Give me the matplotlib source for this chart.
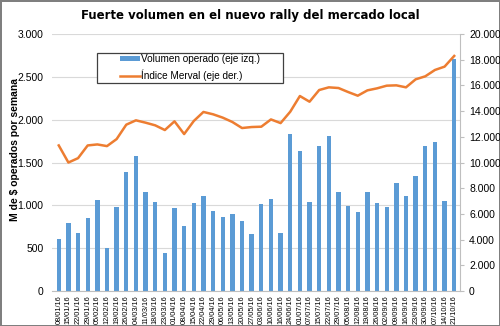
import matplotlib.pyplot as plt
from matplotlib.patches import Rectangle
from matplotlib.ticker import FuncFormatter

fechas = ["08/01/16", "15/01/16", "22/01/16", "29/01/16", "05/02/16", "12/02/16",
          "19/02/16", "26/02/16", "04/03/16", "11/03/16", "18/03/16", "23/03/16",
          "01/04/16", "08/04/16", "15/04/16", "22/04/16", "29/04/16", "06/05/16",
          "13/05/16", "20/05/16", "27/05/16", "03/06/16", "10/06/16", "16/06/16",
          "24/06/16", "01/07/16", "07/07/16", "15/07/16", "22/07/16", "29/07/16",
          "05/08/16", "12/08/16", "19/08/16", "26/08/16", "02/09/16", "09/09/16",
          "16/09/16", "23/09/16", "30/09/16", "07/10/16", "14/10/16", "21/10/16"]

volumen = [605, 793, 676, 855, 1066, 504, 984, 1391, 1578, 1160, 1039, 445,
           973, 758, 1031, 1113, 937, 867, 894, 816, 672, 1016, 1076, 676,
           1832, 1629, 1043, 1695, 1805, 1160, 988, 926, 1156, 1027, 984, 1258,
           1113, 1344, 1695, 1742, 1055, 2708]

merval = [11328, 10000, 10338, 11328, 11406, 11275, 11822, 12942, 13280, 13098,
          12890, 12525, 13202, 12213, 13228, 13931, 13749, 13489, 13150, 12681,
          12759, 12785, 13350, 13065, 13950, 15170, 14728, 15637, 15845, 15793,
          15481, 15195, 15610, 15767, 15975, 16000, 15845, 16468, 16702, 17195,
          17455, 18286]

plt.rcParams['font.family'] = ['Liberation Sans', 'DejaVu Sans']

def miles(v, pos):
    return f"{int(v):,}".replace(",", ".")

fig = plt.figure(figsize=(5, 3.26), dpi=100)
fig.patch.set_edgecolor('#7f7f7f')
fig.patch.set_linewidth(2)

ax = fig.add_axes([0.104, 0.107, 0.816, 0.789])
x = list(range(len(fechas)))
barras = ax.bar(x, volumen, width=0.45, color='#5B9BD5', zorder=2)
ax.set_ylim(0, 3000)
ax.set_xlim(-0.7, len(fechas) - 0.4)
ax.set_yticks(range(0, 3001, 500))
ax.yaxis.set_major_formatter(FuncFormatter(miles))
ax.grid(axis='y', color='#D9D9D9', linewidth=0.8, zorder=0)
ax.set_xticks(x)
ax.set_xticklabels(fechas, rotation=90, fontsize=5.3)
ax.tick_params(axis='y', length=0, labelsize=7.5, pad=6)
ax.tick_params(axis='x', length=0, pad=3)
for s in ['top', 'left', 'right']:
    ax.spines[s].set_visible(False)
ax.spines['bottom'].set_color('#BFBFBF')
ax.set_ylabel('M de $ operados por semana', fontsize=7.5, fontweight='bold')
ax.yaxis.set_label_coords(-0.078, 0.55)

ax2 = ax.twinx()
linea, = ax2.plot(x, merval, color='#ED7D31', linewidth=1.8)
ax2.set_ylim(0, 20000)
ax2.set_yticks(range(0, 20001, 2000))
ax2.yaxis.set_major_formatter(FuncFormatter(miles))
ax2.tick_params(axis='y', labelsize=7.5, color='#BFBFBF', length=3)
for s in ['top', 'left', 'bottom']:
    ax2.spines[s].set_visible(False)
ax2.spines['right'].set_color('#BFBFBF')

# legend box drawn separately so the entries sit centred in a wider frame
caja = Rectangle((0.11, 0.81), 0.456, 0.117, transform=ax2.transAxes,
                 facecolor='white', edgecolor='#404040', linewidth=0.9, zorder=4)
ax2.add_patch(caja)
leg = ax2.legend([barras, linea], ['Volumen operado (eje izq.)', 'Índice Merval (eje der.)'],
                 loc='center', bbox_to_anchor=(0.338, 0.868), frameon=False,
                 fontsize=7.2, handlelength=2.0, handleheight=0.45,
                 handletextpad=0.1, labelspacing=0.55, borderpad=0)
leg.set_zorder(5)

fig.text(0.5, 0.952, 'Fuerte volumen en el nuevo rally del mercado local',
         ha='center', va='center', fontsize=9.4, fontweight='bold',
         family='DejaVu Sans', fontstretch='condensed')

fig.savefig('out.png', dpi=100)
